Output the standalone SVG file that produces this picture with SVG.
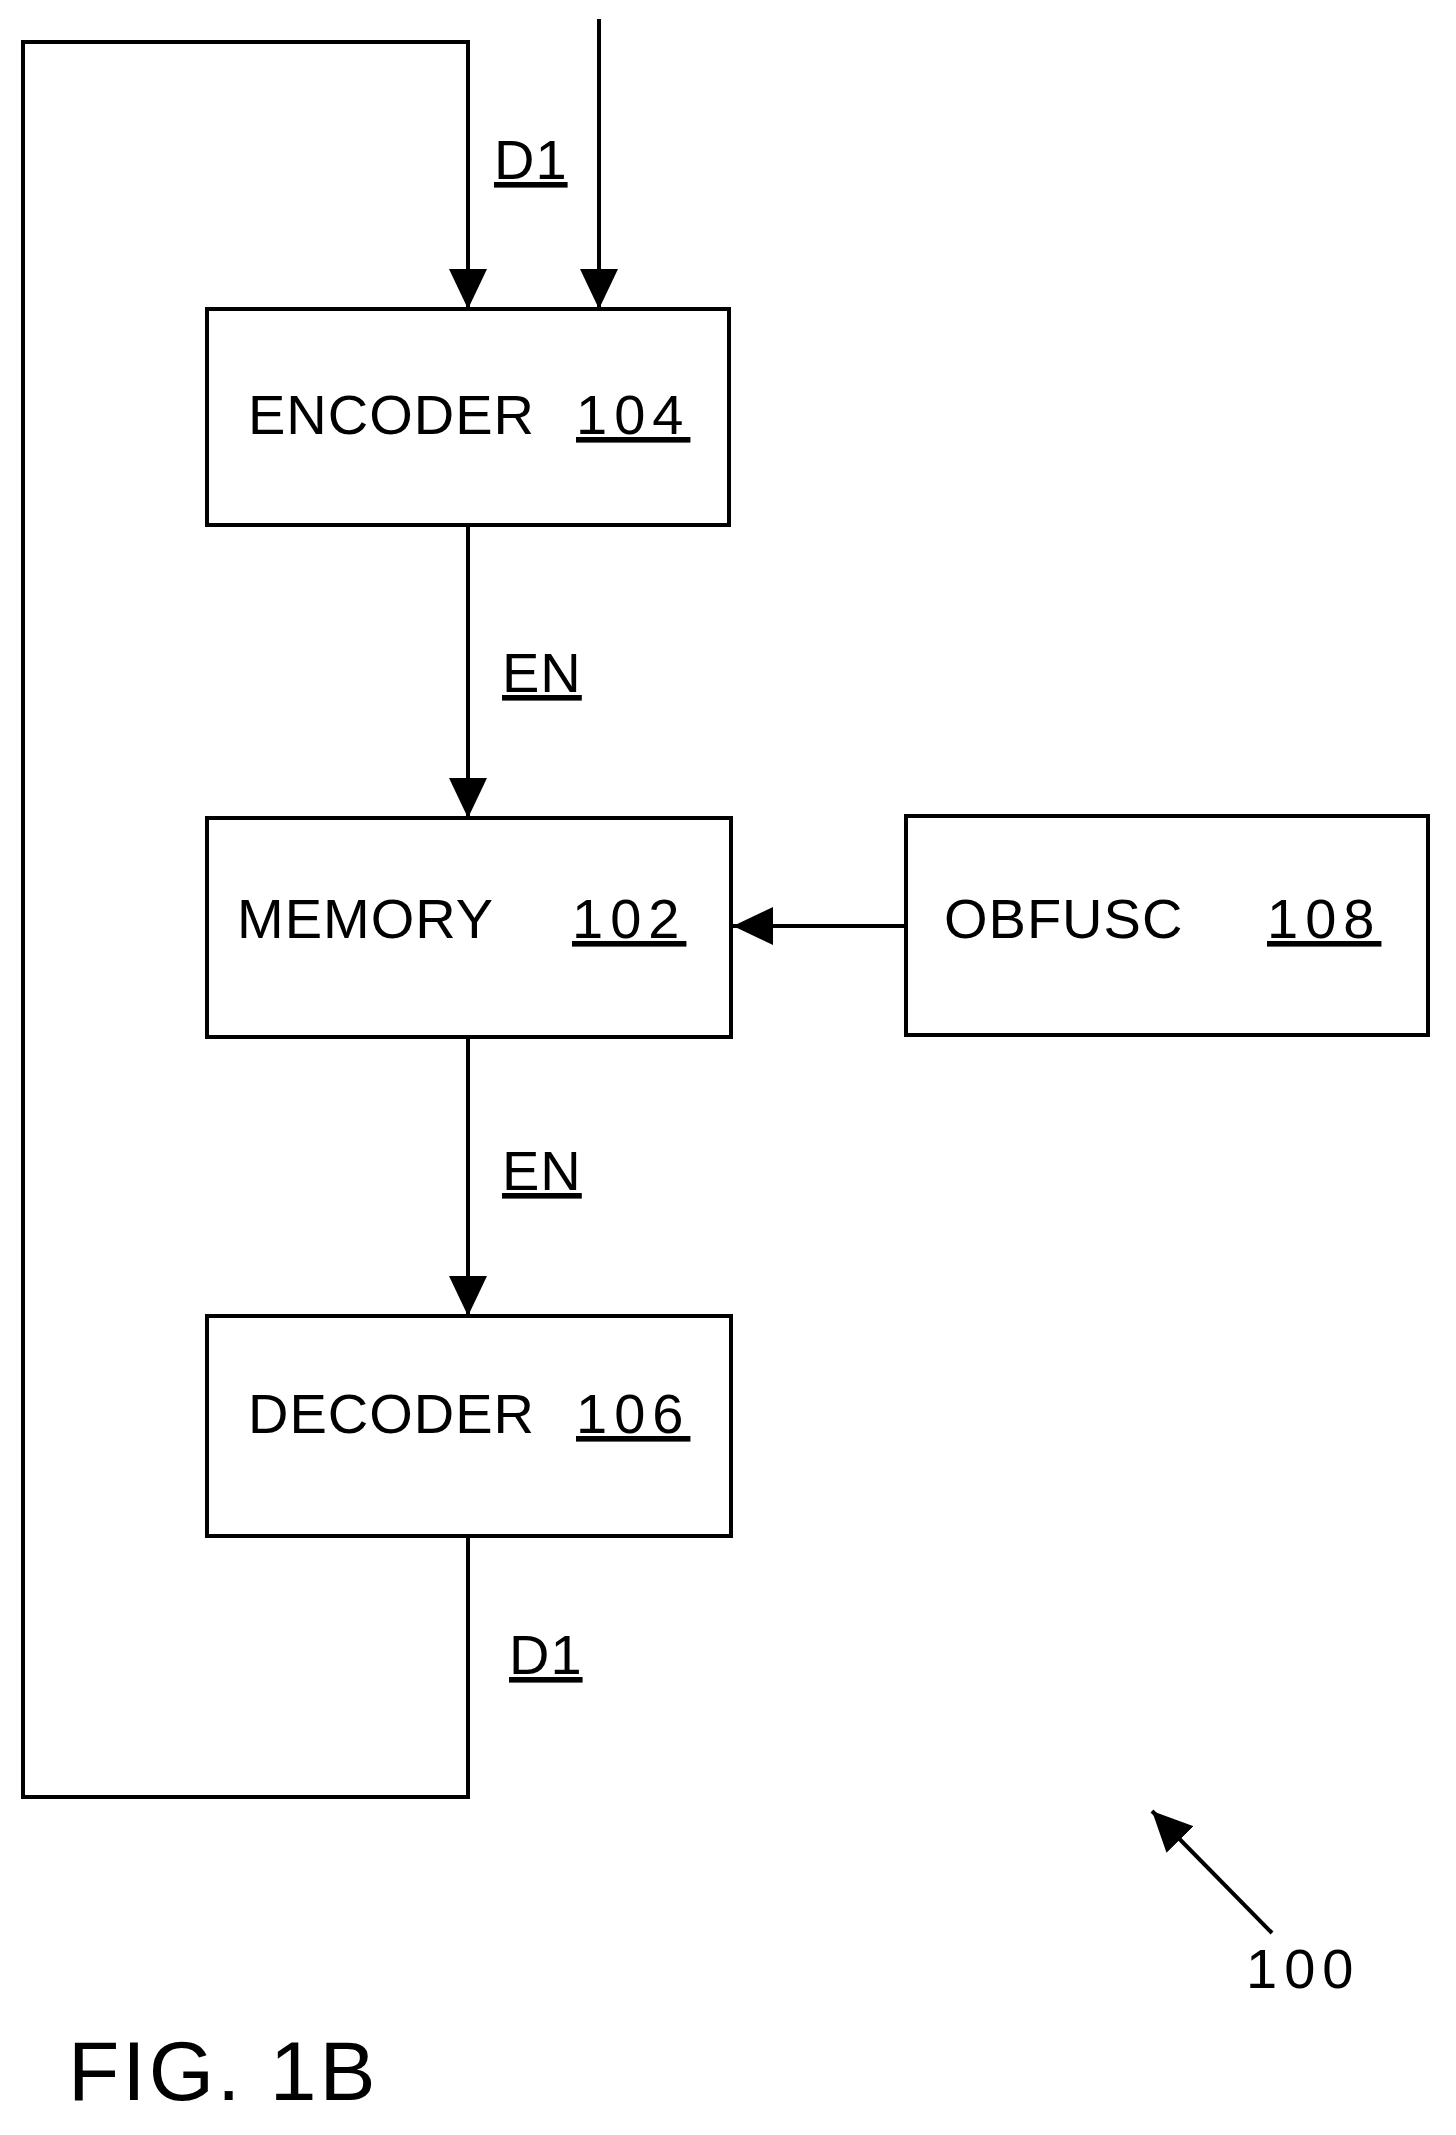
<svg xmlns="http://www.w3.org/2000/svg" width="1456" height="2135" viewBox="0 0 1456 2135">
<style>
.b{fill:#fff;stroke:#000;stroke-width:4}
.l{fill:none;stroke:#000;stroke-width:4}
text{font-family:"Liberation Sans",Arial,sans-serif;font-size:56px;fill:#000;letter-spacing:1px}
.u{text-decoration:underline}
.n{letter-spacing:7px}
</style>
<defs>
<marker id="ah" viewBox="0 0 40 40" refX="40" refY="20" markerWidth="40" markerHeight="40" orient="auto" markerUnits="userSpaceOnUse"><path d="M0,1 L40,20 L0,39 z" fill="#000"/></marker></defs>
<rect width="1456" height="2135" fill="#fff"/>
<g id="connectors">
<path class="l" d="M468,525 L468,818" marker-end="url(#ah)"/>
<path class="l" d="M468,1037 L468,1316" marker-end="url(#ah)"/>
<path class="l" d="M906,926 L733,926" marker-end="url(#ah)"/>
<path class="l" d="M468,1536 L468,1797 L23,1797 L23,42 L468,42 L468,309" marker-end="url(#ah)"/>
<path class="l" d="M599,19 L599,309" marker-end="url(#ah)"/>
<path class="l" d="M1272,1933 L1152,1811" marker-end="url(#ah)"/>
<text x="494" y="179" class="u">D1</text>
<text x="502" y="692" class="u">EN</text>
<text x="502" y="1190" class="u">EN</text>
<text x="509" y="1674" class="u">D1</text>
</g>
<g id="encoder"><rect class="b" x="207" y="309" width="522" height="216"/><text x="248" y="434">ENCODER</text><text x="576" y="434" class="u n">104</text></g>
<g id="memory"><rect class="b" x="207" y="818" width="524" height="219"/><text x="237" y="938">MEMORY</text><text x="572" y="938" class="u n">102</text></g>
<g id="obfusc"><rect class="b" x="906" y="816" width="522" height="219"/><text x="944" y="938">OBFUSC</text><text x="1267" y="938" class="u n">108</text></g>
<g id="decoder"><rect class="b" x="207" y="1316" width="524" height="220"/><text x="248" y="1433">DECODER</text><text x="576" y="1433" class="u n">106</text></g>
<text x="1246" y="1988" class="n">100</text>
<text x="68" y="2100" style="font-size:84px;letter-spacing:3px">FIG. 1B</text>
</svg>
